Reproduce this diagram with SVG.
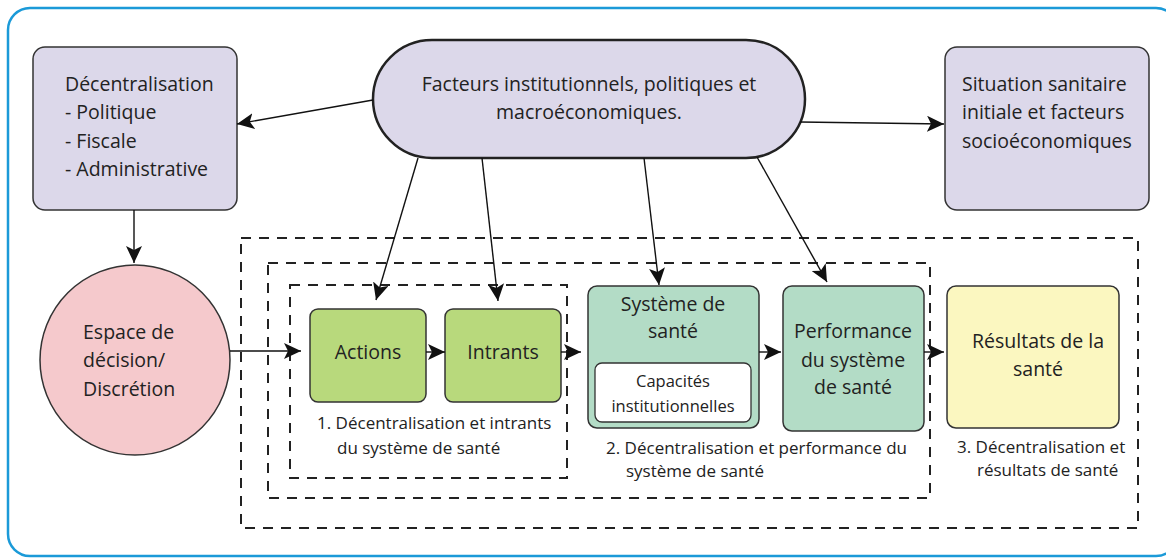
<svg xmlns="http://www.w3.org/2000/svg" width="1166" height="558" viewBox="0 0 1166 558">
<defs>
<marker id="ah" markerUnits="userSpaceOnUse" markerWidth="18" markerHeight="16" refX="17" refY="8" orient="auto">
<path d="M0,0 L17,8 L0,16 L4,8 Z" fill="#111"/>
</marker>
<style>
text{font-family:"Open Sans","Noto Sans","DejaVu Sans",sans-serif;fill:#222;}
.t18{font-size:19.5px;}
.t16{font-size:17px;}
.t15{font-size:16.5px;}
.purple{fill:#dcd8ea;stroke:#333;stroke-width:1.5;}
.green{fill:#b8d97c;stroke:#333;stroke-width:1.5;}
.teal{fill:#b3dcc6;stroke:#333;stroke-width:1.5;}
.yellow{fill:#fbf7c0;stroke:#333;stroke-width:1.5;}
.dash{fill:none;stroke:#222;stroke-width:2;stroke-dasharray:10,8;}
.conn line{stroke:#111;stroke-width:1.4;marker-end:url(#ah);}
</style>
</defs>
<rect x="0" y="0" width="1166" height="558" fill="#fff"/>
<rect id="frame" x="8" y="8" width="1170" height="548" rx="22" fill="none" stroke="#1b9ad8" stroke-width="2.5"/>

<g id="boundaries">
<rect class="dash" x="241" y="238" width="897" height="290"/>
<rect class="dash" x="268" y="263" width="662" height="235"/>
<rect class="dash" x="290" y="285" width="277" height="193"/>
</g>

<g id="decentralisation">
<rect class="purple" x="33" y="47" width="204" height="163" rx="12"/>
<text class="t18" x="65" y="91">Décentralisation</text>
<text class="t18" x="65" y="119">- Politique</text>
<text class="t18" x="65" y="148">- Fiscale</text>
<text class="t18" x="65" y="176">- Administrative</text>
</g>

<g id="facteurs">
<rect x="373" y="40" width="432" height="118" rx="59" fill="#dcd8ea" stroke="#222" stroke-width="2.5"/>
<text class="t18" x="589" y="91" text-anchor="middle">Facteurs institutionnels, politiques et</text>
<text class="t18" x="589" y="119" text-anchor="middle">macroéconomiques.</text>
</g>

<g id="situation">
<rect class="purple" x="945" y="47" width="204" height="163" rx="12"/>
<text class="t18" x="962" y="91">Situation sanitaire</text>
<text class="t18" x="962" y="119">initiale et facteurs</text>
<text class="t18" x="962" y="148">socioéconomiques</text>
</g>

<g id="espace">
<circle cx="135" cy="360" r="95" fill="#f5c9cc" stroke="#333" stroke-width="1.5"/>
<text class="t18" x="83" y="339">Espace de</text>
<text class="t18" x="83" y="367">décision/</text>
<text class="t18" x="83" y="396">Discrétion</text>
</g>

<g id="actions">
<rect class="green" x="310" y="309" width="116" height="93" rx="8"/>
<text class="t18" x="368" y="359" text-anchor="middle">Actions</text>
</g>

<g id="intrants">
<rect class="green" x="445" y="309" width="116" height="93" rx="8"/>
<text class="t18" x="503" y="359" text-anchor="middle">Intrants</text>
</g>

<g id="label1">
<text class="t16" x="317" y="429">1. Décentralisation et intrants</text>
<text class="t16" x="337" y="454">du système de santé</text>
</g>

<g id="systeme">
<rect class="teal" x="588" y="286" width="171" height="142" rx="9"/>
<text class="t18" x="673" y="311" text-anchor="middle">Système de</text>
<text class="t18" x="673" y="338" text-anchor="middle">santé</text>
<g id="capacites">
<rect x="595" y="363" width="156" height="59" rx="7" fill="#fff" stroke="#333" stroke-width="1.3"/>
<text class="t15" x="673" y="387" text-anchor="middle">Capacités</text>
<text class="t15" x="673" y="412" text-anchor="middle">institutionnelles</text>
</g>
</g>

<g id="performance">
<rect class="teal" x="783" y="286" width="141" height="145" rx="9"/>
<text class="t18" x="853" y="338" text-anchor="middle">Performance</text>
<text class="t18" x="853" y="367" text-anchor="middle">du système</text>
<text class="t18" x="853" y="394" text-anchor="middle">de santé</text>
</g>

<g id="label2">
<text class="t16" x="606" y="454">2. Décentralisation et performance du</text>
<text class="t16" x="626" y="477">système de santé</text>
</g>

<g id="resultats">
<rect class="yellow" x="947" y="286" width="172" height="142" rx="9"/>
<text class="t18" x="1038" y="348" text-anchor="middle">Résultats de la</text>
<text class="t18" x="1038" y="376" text-anchor="middle">santé</text>
</g>

<g id="label3">
<text class="t16" x="957" y="453">3. Décentralisation et</text>
<text class="t16" x="977" y="476">résultats de santé</text>
</g>

<g id="connectors" class="conn">
<line x1="373" y1="100" x2="237" y2="124"/>
<line x1="800" y1="122" x2="944" y2="124"/>
<line x1="134" y1="210" x2="134" y2="263"/>
<line x1="230" y1="351" x2="301" y2="351"/>
<line x1="418" y1="158" x2="376" y2="300"/>
<line x1="482" y1="158" x2="498" y2="301"/>
<line x1="644" y1="158" x2="659" y2="285"/>
<line x1="757" y1="157" x2="827" y2="282"/>
<line x1="426" y1="352" x2="445" y2="352"/>
<line x1="561" y1="352" x2="581" y2="352"/>
<line x1="759" y1="352" x2="781" y2="352"/>
<line x1="924" y1="352" x2="944" y2="352"/>
</g>
</svg>
